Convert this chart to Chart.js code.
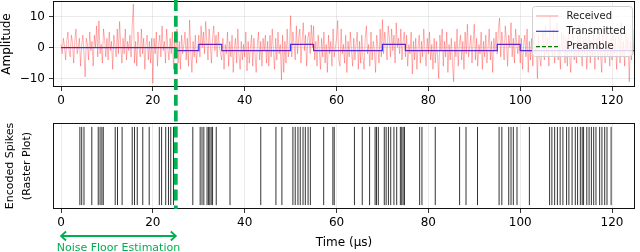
<!DOCTYPE html>
<html>
<head>
<meta charset="utf-8">
<script src="https://cdn.jsdelivr.net/npm/chart.js@4.4.0/dist/chart.umd.min.js"></script>
<style>
  html, body { margin: 0; padding: 0; background: #fff; }
  #wrap { position: relative; width: 640px; height: 252px; }
  canvas { position: absolute; left: 0; }
  #topChart { top: 0; }
  #botChart { top: 110px; }
</style>
</head>
<body>
<div id="wrap">
  <canvas id="topChart" width="640" height="110"></canvas>
  <canvas id="botChart" width="640" height="142"></canvas>
</div>
<script>
'use strict';

// received samples, one every 0.25 us (one row = 5 us)
const sampleStep = 0.25;
const received = [
  1, -2, 3, 0.5, -4, 2, 5, -1, -3, 4, 1.5, -5, 2, 6, -2, 0, 3, -6, 1, 4,
  -2, -9.4, 3, 1, -4, 5, -1, 2, -6, 4, 0, 7, -3, 8.6, -2, 1, -5, 6, 2.5, -3,
  3, -4, 5, -1, 2, -7, 4, 0.5, -3, 6, -2, 8.4, 1, -5, 3, -2, 6, -4, 2, -1,
  4, -3, 7, 14, -5, 2, -6, 5, 0, -3, 6, -2, 3, -7, 1, 4, -4, 2, -5, 3,
  -11.5, 3, -2, 5, -6, 1, 4, -3, 7, -1, 2, -5, 6, 0, -4, 3, -2, 5, -7, 2,
  -3, 6, -5, 2, -7, 4, -2, 1, 5, -4, 3, -6, 8.9, -1, -8, 2, -3, 4, -5, 0,
  4, -3, 7, 0, 5, -2, 8.4, 2, -4, 6, 1, -5, 3, 7, -1, 4, -3, 5, 0, -2,
  -4, 3, -7, 1, -2, 5, -6, 2, -3, 4, -8, 0, 3, -5, 6, -2, -7, 2, -4, 1,
  -3, 5, -7.5, 2, -5, 0, 4, -6, 3, -2, -8, 1, 5, -4, 2, -6, 3, -1, 4, -5,
  2, -6, 4, -3, 6, -1, -7, 3, -4, 5, -2, 1, -10.4, 4, -8, 2, -5, 6, -3, 0,
  10.3, -3, 5, 1, -4, 7, -2, 3, 6, -5, 2, 8, -1, 4, -6, 3, 5, -2, 7.3, 0,
  7, -4, 2, -6, 4, -1, -7, 3, -3, 5, -5, 1, -8, 4, -2, 2, -6, 6, -3, 0,
  3, 8.7, -4, -6, 6, -2, 1, -5, 4, -8, 2, -3, 5, -1, -6, 3, -4, 1, 5, -7,
  2, -5, 4, -3, -7, 3, 7, -2, 1, -6, 5, -4, 2, -1, -8, 4, 0, -5, 6, -3,
  9, -2, 5, 1, -4, 7, 3, -3, 6, -1, 4, -5, 8, 0, 3, -2, 6, -4, 2, 5,
  -3, 4, -6, 1, -2, 5, -8.5, 2, -4, 3, -7, 0, 4, -5, 2, -3, 6, -1, -6, 3,
  -2, 5, -4, 1, -7, 3, -5, 2, -3, -10, 4, -1, 6, -6, 2, -3, 5, -8, 1, -4,
  3, -5, -11, 2, -3, 6, -6, 1, 4, -4, 2, -7, 5, -2, 7.5, -3, 0, 4, -5, 2,
  7.5, -4, 3, -6, 1, -2, 5, -7, 2, -3, 4, -5, 0, 6, -4, 2, -8, 3, -1, 5,
  -2, 6, 9.5, -3, 5, 1, -4, 7, 2, -6, 4, 0, 8, -3, 3, -5, 6, 1, -2, 4,
  -5, 3, -7, 1, 4, -3, 6, -8, 2, -4, 3, -6, 5, -2, 1, -10, 4, -3, -6, 2,
  5, -4, 7, -2, 3, -6, 10, 1, -3, 6, -5, 2, 8, -4, 1, -7, 5, -1, 4, -5,
  3, -6, 5, -2, -8, 2, 6, -4, 1, -5, 4, -3, 7, -1, -6, 3, -2, 5, -7, 1,
  4, -5, 2, -3, 6, -7, 1, 3, -4, 5, -2, -8, 4, 0, -5, 6, -3, 2, -6, 3,
  -4, 5, -2, 3, -7, 1, 4, -5, 8, -3, 2, -6, 5, -1, 3, -11, 2, -4, 6, -2
];

// transmitted symbol levels (each level holds until the next time)
const txTimes = [0, 25, 30, 35, 50, 55, 70, 75, 95, 100, 125];
const txLevels = [0, -1, 1, -1, 1, -1, 1, -1, 1, -1, -1];

const preambleEnd = 25;

// spike times for the raster plot (us)
const spikeTimes = [
  4.1, 4.5, 5.0, 6.7, 8.1, 8.5, 8.9, 9.2, 11.8, 12.3, 13.3, 15.5, 16.0, 16.6,
  17.8, 19.2, 21.4, 21.9, 22.8, 23.4, 23.9, 24.5,
  28.7, 30.3, 30.7, 31.1, 31.8, 32.1, 32.4, 32.7, 33.0, 33.8, 36.8, 43.5, 46.8,
  48.1, 50.5, 51.0, 51.6, 52.1, 52.7, 53.2, 53.8, 54.3, 57.2, 59.2, 59.5,
  63.9, 65.6, 67.2, 68.4, 68.7, 69.1, 70.4, 70.8, 71.3, 71.8, 72.5, 73.1, 73.9,
  74.2, 74.5, 74.8, 78.1, 78.6, 81.5, 86.8, 88.2, 90.7, 95.4, 96.0, 97.5, 98.0,
  98.5, 99.3, 102.0, 106.4, 106.9, 107.5, 108.1, 108.7, 109.3, 110.1, 110.6,
  111.3, 112.0, 112.5, 113.1, 113.5, 113.8, 114.5, 115.0, 115.5, 116.0, 116.5,
  117.3, 117.8, 118.4, 118.9, 119.8
];

const seriesNames = ['Received', 'Transmitted', 'Preamble'];
const xTicks = [0, 20, 40, 60, 80, 100, 120];
const ampTicks = [-10, 0, 10];

const FONT = 'DejaVu Sans';
const GREEN = '#00b050';
const xRange = { min: -1.75, max: 125 };

let rxPoints = received.map((v, i) => ({ x: i * sampleStep, y: v }));
let txPoints = txTimes.map((t, i) => ({ x: t, y: txLevels[i] }));
let rasterPoints = [];
spikeTimes.forEach(t => {
  rasterPoints.push({ x: t, y: -0.5 }, { x: t, y: 0.5 }, { x: t, y: null });
});

function fixedTicks(values) {
  return function (scale) {
    scale.ticks = values.map(v => ({ value: v }));
  };
}

function minusSign(v) {
  return v < 0 ? '\u2212' + Math.abs(v) : String(v);
}

// fixed axis size, and no extra room asked for the end labels
function sizeAxis(w, h) {
  return function (scale) {
    if (w !== null) scale.width = w;
    if (h !== null) scale.height = h;
    scale.paddingTop = 0;
    scale.paddingBottom = 0;
    scale.paddingLeft = 0;
    scale.paddingRight = 0;
  };
}

// black box round the plot area, like the matplotlib spines
const frame = {
  id: 'frame',
  afterDatasetsDraw(chart) {
    const a = chart.chartArea;
    const ctx = chart.ctx;
    ctx.save();
    ctx.strokeStyle = '#111';
    ctx.lineWidth = 1;
    ctx.strokeRect(Math.round(a.left) + 0.5, Math.round(a.top) + 0.5,
      Math.round(a.right - a.left) - 1, Math.round(a.bottom - a.top) - 1);
    ctx.restore();
  }
};

// thick dashed preamble marker, runs from the canvas top to the plot bottom
function preambleLine(offsetY, toAreaBottom) {
  return {
    id: 'preamble',
    afterDraw(chart) {
      const ctx = chart.ctx;
      const x = chart.scales.x.getPixelForValue(preambleEnd);
      const yEnd = toAreaBottom ? chart.chartArea.bottom : chart.height;
      ctx.save();
      ctx.strokeStyle = GREEN;
      ctx.lineWidth = 3.7;
      ctx.setLineDash([11, 4.8]);
      ctx.lineDashOffset = offsetY;
      ctx.beginPath();
      ctx.moveTo(x, 0);
      ctx.lineTo(x, yEnd);
      ctx.stroke();
      ctx.restore();
    }
  };
}

const insideLegend = {
  id: 'insideLegend',
  afterDatasetsDraw(chart) {
    const ctx = chart.ctx;
    const a = chart.chartArea;
    const left = a.right - 102.5;
    const top = a.top + 5.5;
    const styles = [
      { color: 'rgba(255,0,0,0.35)', dash: [] },
      { color: 'rgba(0,0,255,0.8)', dash: [] },
      { color: '#007a00', dash: [4, 2] }
    ];
    ctx.save();
    ctx.fillStyle = 'rgba(255,255,255,0.8)';
    ctx.strokeStyle = '#d0d0d0';
    ctx.lineWidth = 1;
    ctx.beginPath();
    ctx.roundRect(left, top, 100, 50, 3);
    ctx.fill();
    ctx.stroke();
    ctx.font = '10px "' + FONT + '"';
    ctx.textBaseline = 'middle';
    for (let i = 0; i < seriesNames.length; i++) {
      let y = top + 9.5 + i * 15.3;
      ctx.strokeStyle = styles[i].color;
      ctx.setLineDash(styles[i].dash);
      ctx.lineWidth = 1.2;
      ctx.beginPath();
      ctx.moveTo(left + 3.5, y);
      ctx.lineTo(left + 26, y);
      ctx.stroke();
      ctx.fillStyle = '#222';
      ctx.fillText(seriesNames[i], left + 34, y);
    }
    ctx.restore();
  }
};

// green double arrow + caption under the raster plot
const noiseFloor = {
  id: 'noiseFloor',
  afterDraw(chart) {
    const ctx = chart.ctx;
    const xs = chart.scales.x;
    const x0 = xs.getPixelForValue(0);
    const x1 = xs.getPixelForValue(preambleEnd);
    const y = chart.chartArea.bottom + 27;
    ctx.save();
    ctx.strokeStyle = GREEN;
    ctx.fillStyle = GREEN;
    ctx.lineWidth = 1.8;
    ctx.beginPath();
    ctx.moveTo(x0, y);
    ctx.lineTo(x1, y);
    ctx.moveTo(x0 + 5, y - 4.5);
    ctx.lineTo(x0, y);
    ctx.lineTo(x0 + 5, y + 4.5);
    ctx.moveTo(x1 - 5, y - 4.5);
    ctx.lineTo(x1, y);
    ctx.lineTo(x1 - 5, y + 4.5);
    ctx.stroke();
    ctx.font = '11px "' + FONT + '"';
    ctx.textAlign = 'center';
    ctx.textBaseline = 'middle';
    ctx.fillText('Noise Floor Estimation', (x0 + x1) / 2, y + 12);
    ctx.restore();
  }
};

const tickFont = { family: FONT, size: 12 };
const gridStyle = { color: 'rgba(0,0,0,0.1)', lineWidth: 0.8, tickColor: '#000', tickLength: 4 };

new Chart(document.getElementById('topChart'), {
  type: 'line',
  data: {
    datasets: [
      {
        label: seriesNames[0],
        data: rxPoints,
        borderColor: 'rgba(255,0,0,0.3)',
        borderWidth: 1,
        pointRadius: 0,
        tension: 0
      },
      {
        label: seriesNames[1],
        data: txPoints,
        borderColor: 'rgba(0,0,255,0.8)',
        borderWidth: 1.2,
        pointRadius: 0,
        stepped: true
      }
    ]
  },
  options: {
    responsive: false,
    animation: false,
    events: [],
    layout: { padding: { top: 1, right: 5, left: 0, bottom: 0 } },
    plugins: { legend: { display: false }, tooltip: { enabled: false } },
    scales: {
      x: {
        type: 'linear',
        min: xRange.min,
        max: xRange.max,
        afterBuildTicks: fixedTicks(xTicks),
        afterFit: sizeAxis(null, 23),
        grid: gridStyle,
        border: { display: false },
        ticks: { font: tickFont, color: '#000', padding: 3, maxRotation: 0 }
      },
      y: {
        min: -12.7,
        max: 15,
        afterBuildTicks: fixedTicks(ampTicks),
        afterFit: sizeAxis(53, null),
        grid: gridStyle,
        border: { display: false },
        ticks: { font: tickFont, color: '#000', padding: 4, callback: minusSign },
        title: {
          display: true,
          text: 'Amplitude',
          color: '#000',
          font: { family: FONT, size: 12 },
          padding: { top: 0, bottom: 0 }
        }
      }
    }
  },
  plugins: [frame, insideLegend, preambleLine(0, false)]
});

new Chart(document.getElementById('botChart'), {
  type: 'line',
  data: {
    datasets: [{
      label: 'spikes',
      data: rasterPoints,
      borderColor: 'rgba(0,0,0,0.8)',
      borderWidth: 1,
      pointRadius: 0,
      spanGaps: false
    }]
  },
  options: {
    responsive: false,
    animation: false,
    events: [],
    layout: { padding: { top: 13, right: 5, left: 0, bottom: 0 } },
    plugins: { legend: { display: false }, tooltip: { enabled: false } },
    scales: {
      x: {
        type: 'linear',
        min: xRange.min,
        max: xRange.max,
        afterBuildTicks: fixedTicks(xTicks),
        afterFit: sizeAxis(null, 43),
        grid: gridStyle,
        border: { display: false },
        ticks: { font: tickFont, color: '#000', padding: 3, maxRotation: 0 },
        title: {
          display: true,
          text: 'Time (\u00b5s)',
          color: '#000',
          font: { family: FONT, size: 12 },
          padding: { top: 0, bottom: 2 }
        }
      },
      y: {
        min: -0.55,
        max: 0.55,
        afterFit: sizeAxis(53, null),
        grid: { display: false },
        border: { display: false },
        ticks: { display: false },
        title: {
          display: true,
          text: ['Encoded Spikes', '(Raster Plot)'],
          color: '#000',
          font: { family: FONT, size: 11, lineHeight: 1.5 },
          padding: { top: 2, bottom: 0 }
        }
      }
    }
  },
  plugins: [frame, noiseFloor, preambleLine(110, true)]
});
</script>
</body>
</html>
